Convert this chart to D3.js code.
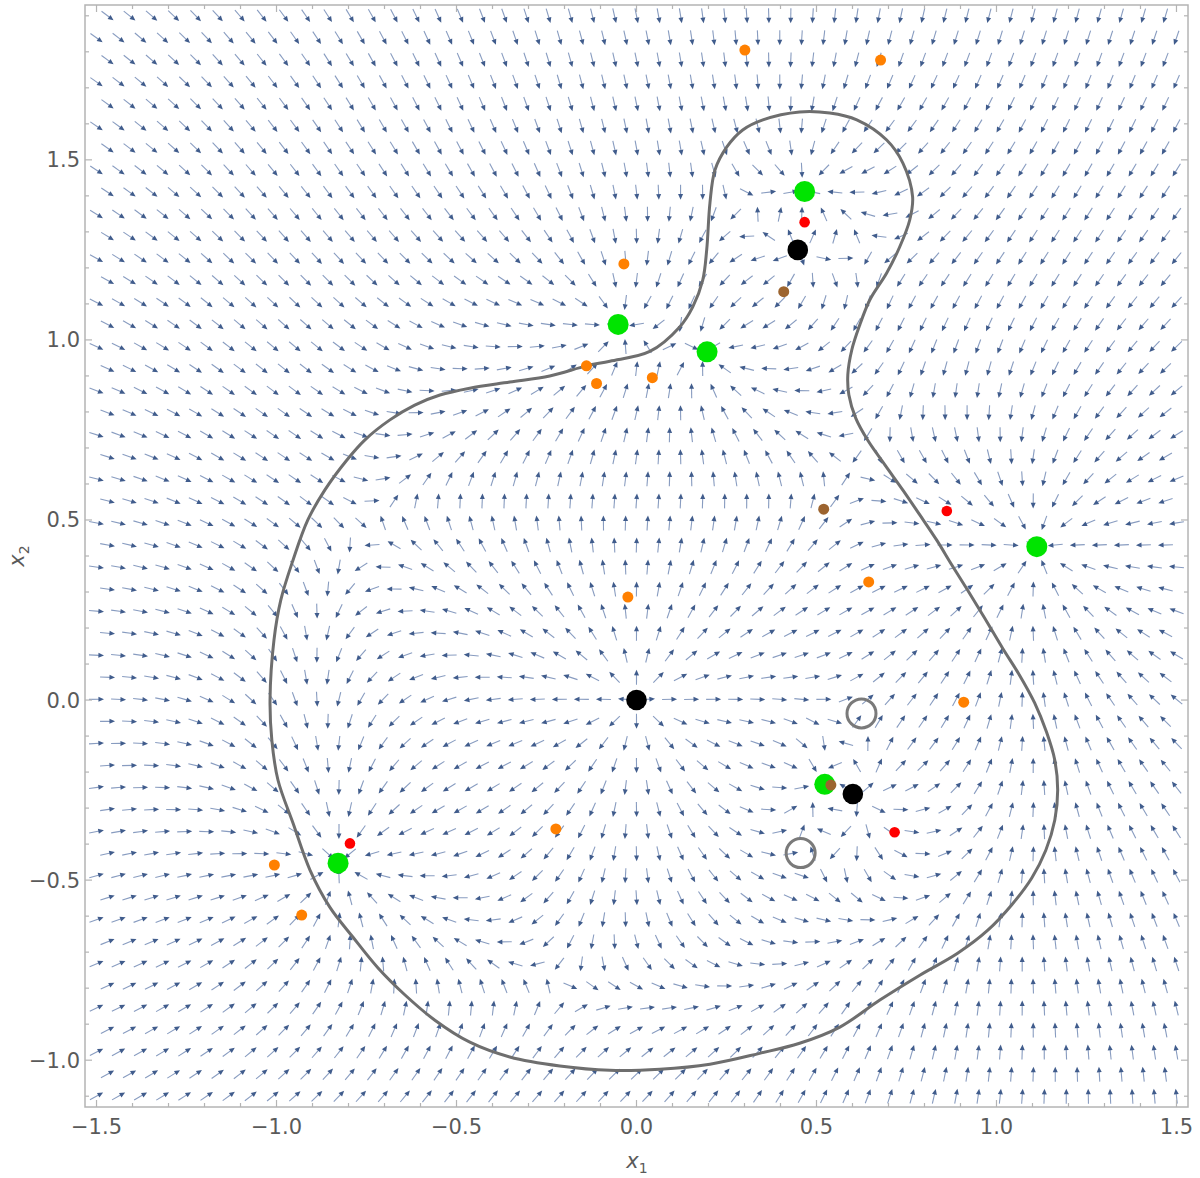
<!DOCTYPE html>
<html><head><meta charset="utf-8">
<script src="https://cdn.jsdelivr.net/npm/d3@7"></script>
<style>body{margin:0;background:#fff} svg{display:block}</style>
</head><body>
<svg id="c" width="1200" height="1178"></svg>
<script>
// ---------------- data ----------------
const xTicks = [-1.5, -1.0, -0.5, 0.0, 0.5, 1.0, 1.5];
const yTicks = [-1.0, -0.5, 0.0, 0.5, 1.0, 1.5];
const xTickLabels = ["\u22121.5", "\u22121.0", "\u22120.5", "0.0", "0.5", "1.0", "1.5"];
const yTickLabels = ["\u22121.0", "\u22120.5", "0.0", "0.5", "1.0", "1.5"];

// equilibria (black = repelling, green = attracting)
const blackPts = [[0, 0], [0.448, 1.250], [0.601, -0.261]];
const blackStrength = [1.3, 0.7, 0.6];
const greenPts = [[0.467, 1.412], [-0.051, 1.043], [0.196, 0.967], [1.112, 0.426], [0.523, -0.234], [-0.829, -0.453]];
const greenStrength = [0.8, 0.8, 0.7, 1.0, 0.6, 0.7];
const redPts = [[0.467, 1.327], [0.862, 0.525], [0.717, -0.367], [-0.796, -0.398]];
const brownPts = [[0.409, 1.134], [0.520, 0.530], [0.540, -0.236]];
const orangePts = [[0.301, 1.805], [0.678, 1.777], [-0.035, 1.211], [-0.139, 0.928], [-0.111, 0.879],
  [0.044, 0.895], [-0.024, 0.286], [0.645, 0.328], [0.909, -0.006], [-0.224, -0.358], [-1.006, -0.458], [-0.930, -0.597]];
const ringPts = [[0.625, -0.037], [0.456, -0.425]];

// arrow directions: [x1, x2, angle in degrees, counter-clockwise from +x1]
const readArrows = [
 [-1.5,1.9,-45],[-1.2,1.9,-45],[-0.9,1.9,-50],[-0.66,1.9,-68],[-0.4,1.9,-75],[-0.18,1.9,-87],[0,1.9,-90],
 [0.15,1.9,-96],[0.45,1.9,-100],[0.8,1.9,-103],[1.16,1.9,-105],[1.5,1.9,-105],
 [-1.5,1.6,-45],[-1.0,1.6,-45],[1.2,1.6,-105],[1.45,1.45,-105],
 [-1.5,1.3,-40],[-1.5,1.1,-30],[-1.5,0.8,-12],[-1.5,0.5,0],[-1.5,0.3,0],[-1.5,0.0,5],[-1.5,-0.4,18],[-1.5,-0.8,28],[-1.5,-1.1,30],
 [-1.2,-1.1,30],[-0.9,-1.1,28],[-0.5,-1.1,20],[0.0,-1.1,18],[0.45,-1.1,18],[0.6,-1.1,27],[0.75,-1.1,53],[0.9,-1.1,76],
 [1.0,-1.1,90],[1.1,-1.1,96],[1.2,-1.1,107],[1.35,-1.1,117],[1.5,-1.1,125],[-0.8,-0.95,17],
 [1.5,1.0,-125],[1.5,0.6,-160],[1.45,0.43,180],[1.45,0.3,170],[1.5,0.0,150],[1.5,-0.4,135],[1.5,-0.8,128],
 [1.11,0.15,90],[1.11,0.7,-90],[0.9,0.43,0],
 [-0.5,0,180],[-0.4,0.4,135],[0,0.55,90],[-0.35,-0.45,-125],[0,-0.6,-90],[0.35,0.12,0],
 [-1.06,-0.3,90],[-1.15,-0.5,60]
];

// closed level curve
const contour = [
 [-1.018,0.000],[-1.007,0.167],[-0.988,0.278],[-0.954,0.389],[-0.913,0.500],[-0.866,0.583],[-0.805,0.666],
 [-0.755,0.722],[-0.685,0.778],[-0.616,0.819],[-0.546,0.847],[-0.463,0.866],[-0.352,0.883],[-0.241,0.900],
 [-0.139,0.928],[-0.074,0.941],[0.037,0.968],[0.120,1.036],[0.156,1.091],[0.184,1.166],[0.195,1.250],
 [0.204,1.380],[0.218,1.472],[0.251,1.536],[0.295,1.583],[0.351,1.611],[0.453,1.633],[0.537,1.630],
 [0.612,1.611],[0.695,1.555],[0.740,1.491],[0.767,1.397],[0.759,1.333],[0.731,1.258],[0.695,1.186],
 [0.648,1.111],[0.620,1.041],[0.598,0.972],[0.587,0.903],[0.590,0.847],[0.609,0.783],[0.642,0.722],
 [0.690,0.653],[0.740,0.583],[0.787,0.514],[0.834,0.444],[0.876,0.375],[0.920,0.305],[0.967,0.228],
 [1.017,0.144],[1.064,0.069],[1.106,-0.008],[1.139,-0.089],[1.162,-0.167],[1.170,-0.250],[1.162,-0.333],
 [1.137,-0.417],[1.098,-0.494],[1.042,-0.569],[0.976,-0.639],[0.892,-0.703],[0.787,-0.764],[0.676,-0.833],
 [0.565,-0.908],[0.453,-0.953],[0.342,-0.981],[0.204,-1.011],[0.065,-1.025],[-0.074,-1.028],[-0.213,-1.016],
 [-0.352,-0.991],[-0.463,-0.950],[-0.560,-0.889],[-0.643,-0.819],[-0.718,-0.744],[-0.788,-0.658],[-0.852,-0.575],
 [-0.907,-0.472],[-0.954,-0.342],[-0.996,-0.222],[-1.013,-0.111]
];

// arrow sample grid (staggered rows)
const gridXMin = -1.5, gridXMax = 1.5, gridYMin = -1.1, gridYMax = 1.9, gridN = 50;

// ---------------- layout ----------------
const svg = d3.select("#c");
const x = d3.scaleLinear().domain([-1.532, 1.532]).range([85, 1188]);
const y = d3.scaleLinear().domain([-1.13, 1.93]).range([1107, 5]);

// local part of the field: radial flow out of black points, into green points
function localField(px, py) {
  let vx = 0, vy = 0;
  const add = (c, q, sig) => {
    const dx = px - c[0], dy = py - c[1], r2 = dx * dx + dy * dy;
    const k = q * Math.exp(-r2 / (2 * sig * sig)) / (r2 + 1e-3);
    vx += k * dx; vy += k * dy;
  };
  blackPts.forEach((c, i) => add(c, blackStrength[i], i === 0 ? 0.9 : 0.55));
  greenPts.forEach((c, i) => add(c, -greenStrength[i], 0.55));
  return [vx, vy];
}
const basis = (px, py) => [1, px, py, px * px, px * py, py * py];

// smooth background fitted (least squares) to the read arrow directions
function solve(A, b) {
  const n = b.length, M = A.map((r, i) => r.concat([b[i]]));
  for (let c = 0; c < n; c++) {
    let p = c;
    for (let r = c + 1; r < n; r++) if (Math.abs(M[r][c]) > Math.abs(M[p][c])) p = r;
    [M[c], M[p]] = [M[p], M[c]];
    for (let r = 0; r < n; r++) if (r !== c) {
      const f = M[r][c] / M[c][c];
      for (let k = c; k <= n; k++) M[r][k] -= f * M[c][k];
    }
  }
  return M.map((r, i) => r[n] / r[i]);
}
const target = 2.0, ridge = 0.1;
const nb = 6;
const AtA = d3.range(nb).map(() => new Array(nb).fill(0));
const AtX = new Array(nb).fill(0), AtY = new Array(nb).fill(0);
readArrows.forEach(o => {
  const ph = basis(o[0], o[1]);
  const L0 = localField(o[0], o[1]);
  const t = o[2] * Math.PI / 180;
  const tx = target * Math.cos(t) - L0[0], ty = target * Math.sin(t) - L0[1];
  for (let i = 0; i < nb; i++) {
    AtX[i] += ph[i] * tx; AtY[i] += ph[i] * ty;
    for (let j = 0; j < nb; j++) AtA[i][j] += ph[i] * ph[j];
  }
});
for (let i = 0; i < nb; i++) AtA[i][i] += ridge;
const coefX = solve(AtA, AtX), coefY = solve(AtA, AtY);

function field(px, py) {
  const L0 = localField(px, py), ph = basis(px, py);
  return [L0[0] + d3.sum(ph, (v, i) => v * coefX[i]), L0[1] + d3.sum(ph, (v, i) => v * coefY[i])];
}

// arrows
const step = (gridXMax - gridXMin) / (gridN - 1);
const arrows = [];
for (let j = 0; j < gridN; j++) {
  const gy = gridYMin + j * (gridYMax - gridYMin) / (gridN - 1);
  const off = (j % 2) ? step / 2 : 0;
  const cnt = (j % 2) ? gridN - 1 : gridN;
  for (let i = 0; i < cnt; i++) arrows.push([gridXMin + off + i * step, gy]);
}
const L = 15, HL = 5.6, HW = 2.5;
const gA = svg.append("g");
arrows.forEach(a => {
  const v = field(a[0], a[1]);
  let sx = v[0], sy = -v[1];
  const m = Math.hypot(sx, sy);
  if (m < 1e-9) return;
  sx /= m; sy /= m;
  const cx = x(a[0]), cy = y(a[1]);
  const tx = cx - sx * L / 2, ty = cy - sy * L / 2;
  const hx = cx + sx * L / 2, hy = cy + sy * L / 2;
  const bx = hx - sx * HL, by = hy - sy * HL;
  gA.append("line").attr("x1", tx).attr("y1", ty).attr("x2", bx + sx).attr("y2", by + sy)
    .attr("stroke", "#889cc0").attr("stroke-width", 1.1);
  gA.append("path")
    .attr("d", `M${hx},${hy}L${bx - sy * HW},${by + sx * HW}L${bx + sy * HW},${by - sx * HW}Z`)
    .attr("fill", "#405c8c");
});

// contour
svg.append("path")
  .attr("d", d3.line().x(d => x(d[0])).y(d => y(d[1])).curve(d3.curveCatmullRomClosed.alpha(0.5))(contour))
  .attr("fill", "none").attr("stroke", "#6e6e6e").attr("stroke-width", 3);

// rings
svg.selectAll(".ring").data(ringPts).enter().append("circle")
  .attr("cx", d => x(d[0])).attr("cy", d => y(d[1])).attr("r", 14.5)
  .attr("fill", "none").attr("stroke", "#7a7a7a").attr("stroke-width", 3);

function dots(data, r, col) {
  svg.append("g").selectAll("circle").data(data).enter().append("circle")
    .attr("cx", d => x(d[0])).attr("cy", d => y(d[1])).attr("r", r).attr("fill", col);
}
dots(greenPts, 10.5, "#00e400");
dots(blackPts, 10.3, "#000000");
dots(redPts, 5.3, "#ff0000");
dots(brownPts, 5.5, "#9c642f");
dots(orangePts, 5.5, "#ff8000");

// frame & ticks
const fc = "#b4b4b4";
svg.append("rect").attr("x", 85).attr("y", 5).attr("width", 1103).attr("height", 1102)
  .attr("fill", "none").attr("stroke", fc).attr("stroke-width", 1.5);
const xMinor = d3.range(-15, 16).map(k => k / 10);
const yMinor = d3.range(-11, 20).map(k => k / 10);
const gt = svg.append("g").attr("stroke", fc).attr("stroke-width", 1.2);
xMinor.forEach(v => {
  const major = Math.abs(v * 2 - Math.round(v * 2)) < 1e-6;
  const len = major ? 7 : 4;
  gt.append("line").attr("x1", x(v)).attr("x2", x(v)).attr("y1", 1107).attr("y2", 1107 - len);
  gt.append("line").attr("x1", x(v)).attr("x2", x(v)).attr("y1", 5).attr("y2", 5 + len);
});
yMinor.forEach(v => {
  const major = Math.abs(v * 2 - Math.round(v * 2)) < 1e-6;
  const len = major ? 7 : 4;
  gt.append("line").attr("y1", y(v)).attr("y2", y(v)).attr("x1", 85).attr("x2", 85 + len);
  gt.append("line").attr("y1", y(v)).attr("y2", y(v)).attr("x1", 1188).attr("x2", 1188 - len);
});
const font = "DejaVu Sans, sans-serif";
svg.append("g").selectAll("text").data(xTicks).enter().append("text")
  .attr("x", d => x(d)).attr("y", 1134).attr("text-anchor", "middle")
  .attr("font-family", font).attr("font-size", 21).attr("fill", "#5a5a5a")
  .text((d, i) => xTickLabels[i]);
svg.append("g").selectAll("text").data(yTicks).enter().append("text")
  .attr("x", 80).attr("y", d => y(d) + 7.5).attr("text-anchor", "end")
  .attr("font-family", font).attr("font-size", 21).attr("fill", "#5a5a5a")
  .text((d, i) => yTickLabels[i]);
// axis labels
const xl = svg.append("text").attr("x", 637).attr("y", 1168).attr("text-anchor", "middle")
  .attr("font-family", font).attr("font-size", 21).attr("fill", "#5a5a5a");
xl.append("tspan").attr("font-style", "italic").text("x");
xl.append("tspan").attr("font-size", 14).attr("dy", 5).text("1");
const yl = svg.append("text").attr("transform", "translate(24,556) rotate(-90)").attr("text-anchor", "middle")
  .attr("font-family", font).attr("font-size", 21).attr("fill", "#5a5a5a");
yl.append("tspan").attr("font-style", "italic").text("x");
yl.append("tspan").attr("font-size", 14).attr("dy", 5).text("2");
</script>
</body></html>
